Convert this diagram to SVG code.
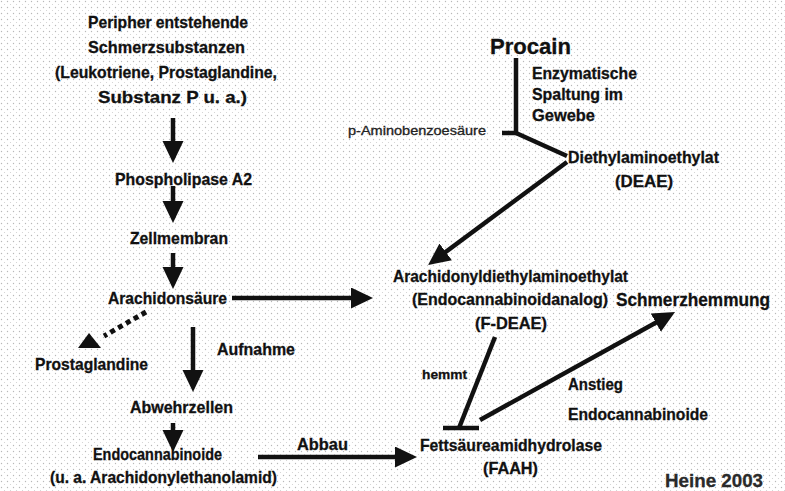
<svg xmlns="http://www.w3.org/2000/svg" width="785" height="491" viewBox="0 0 785 491">
  <defs>
    <pattern id="grain" width="6" height="6" patternUnits="userSpaceOnUse">
      <circle cx="1.5" cy="1.5" r="0.7" fill="#b8b8b8"/>
      <circle cx="4.5" cy="4.5" r="0.6" fill="#cfcfcf"/>
    </pattern>
    <marker id="head" markerUnits="userSpaceOnUse" markerWidth="24" markerHeight="24" refX="4" refY="10.5" orient="auto">
      <path d="M0,0 L22,10.5 L0,21 Z" fill="#111"/>
    </marker>
  </defs>
  <style>
    text { font-family: "Liberation Sans", Arial, sans-serif; font-weight: bold; fill: #111; stroke: #111; stroke-width: 0.3; font-size: 17px; }
    .small { font-size: 13px; }
    .thin { font-weight: normal; font-size: 12.5px; fill: #222; stroke: #222; }
    .big { font-size: 22px; }
    .mid { font-size: 19px; }
    .sig { font-size: 19px; fill: #2a2a2a; stroke: #2a2a2a; }
    .edge { stroke: #111; stroke-width: 4.5; fill: none; }
    .arrow { marker-end: url(#head); }
    .dots { stroke: #111; stroke-width: 5; stroke-dasharray: 5 4; fill: none; }
  </style>

  <rect width="785" height="491" fill="#ffffff"/>
  <rect width="785" height="491" fill="url(#grain)"/>

  <g id="connectors">
    <!-- left cascade -->
    <line class="edge arrow" x1="173" y1="118" x2="173" y2="145"/>
    <line class="edge arrow" x1="173" y1="186" x2="173" y2="205"/>
    <line class="edge arrow" x1="173" y1="253" x2="173" y2="271"/>
    <line class="edge arrow" x1="193" y1="327" x2="193" y2="374"/>
    <line class="edge arrow" x1="173" y1="423" x2="173" y2="434"/>
    <!-- to the analog and to FAAH -->
    <line class="edge arrow" x1="232" y1="298" x2="355" y2="298"/>
    <line class="edge arrow" x1="258" y1="457" x2="399" y2="457"/>
    <!-- dotted branch to prostaglandins -->
    <line class="dots" x1="146" y1="312" x2="104" y2="336"/>
    <polygon points="89,333 101,348 78,348" fill="#111"/>
    <!-- procaine split -->
    <line class="edge" x1="516" y1="58" x2="516" y2="134"/>
    <line class="edge" x1="502" y1="133" x2="518" y2="133" stroke-width="5"/>
    <line class="edge" x1="516" y1="133" x2="567" y2="156"/>
    <line class="edge arrow" x1="567" y1="162" x2="442.5" y2="254.3"/>
    <!-- inhibition of FAAH -->
    <line class="edge" x1="495" y1="337" x2="459" y2="428"/>
    <line class="edge" x1="443" y1="428" x2="479" y2="428"/>
    <!-- rise of endocannabinoids -->
    <line class="edge arrow" x1="480" y1="420" x2="659.3" y2="320.7"/>
  </g>

  <g id="schmerzsubstanzen">
    <text x="88" y="28" textLength="160" lengthAdjust="spacingAndGlyphs">Peripher entstehende</text>
    <text x="88" y="53" textLength="157" lengthAdjust="spacingAndGlyphs">Schmerzsubstanzen</text>
    <text x="55" y="78" textLength="222" lengthAdjust="spacingAndGlyphs">(Leukotriene, Prostaglandine,</text>
    <text x="98" y="103" textLength="149" lengthAdjust="spacingAndGlyphs">Substanz P u. a.)</text>
  </g>
  <g id="phospholipase">
    <text x="115" y="185" textLength="137" lengthAdjust="spacingAndGlyphs">Phospholipase A2</text>
  </g>
  <g id="zellmembran">
    <text x="130" y="244" textLength="98" lengthAdjust="spacingAndGlyphs">Zellmembran</text>
  </g>
  <g id="arachidonsaeure">
    <text x="108" y="304" textLength="119" lengthAdjust="spacingAndGlyphs">Arachidonsäure</text>
  </g>
  <g id="prostaglandine">
    <text x="35" y="370" textLength="113" lengthAdjust="spacingAndGlyphs">Prostaglandine</text>
  </g>
  <g id="aufnahme">
    <text x="217" y="355" textLength="78" lengthAdjust="spacingAndGlyphs">Aufnahme</text>
  </g>
  <g id="abwehrzellen">
    <text x="130" y="413" textLength="103" lengthAdjust="spacingAndGlyphs">Abwehrzellen</text>
  </g>
  <g id="endocannabinoide">
    <text x="93" y="460" textLength="129" lengthAdjust="spacingAndGlyphs">Endocannabinoide</text>
    <text x="50" y="483" textLength="227" lengthAdjust="spacingAndGlyphs">(u. a. Arachidonylethanolamid)</text>
  </g>
  <g id="abbau">
    <text x="297" y="450" textLength="51" lengthAdjust="spacingAndGlyphs">Abbau</text>
  </g>

  <g id="procain">
    <text class="big" x="490" y="54" textLength="81" lengthAdjust="spacingAndGlyphs">Procain</text>
  </g>
  <g id="spaltung">
    <text x="532" y="79" textLength="105" lengthAdjust="spacingAndGlyphs">Enzymatische</text>
    <text x="532" y="100" textLength="91" lengthAdjust="spacingAndGlyphs">Spaltung im</text>
    <text x="532" y="121" textLength="63" lengthAdjust="spacingAndGlyphs">Gewebe</text>
  </g>
  <g id="aminobenzoesaeure">
    <text class="thin" x="348" y="135" textLength="138" lengthAdjust="spacingAndGlyphs">p-Aminobenzoesäure</text>
  </g>
  <g id="deae">
    <text x="568" y="163" textLength="151" lengthAdjust="spacingAndGlyphs">Diethylaminoethylat</text>
    <text x="615" y="187" textLength="58" lengthAdjust="spacingAndGlyphs">(DEAE)</text>
  </g>
  <g id="f-deae">
    <text x="393" y="282" textLength="235" lengthAdjust="spacingAndGlyphs">Arachidonyldiethylaminoethylat</text>
    <text x="412" y="305" textLength="196" lengthAdjust="spacingAndGlyphs">(Endocannabinoidanalog)</text>
    <text x="475" y="329" textLength="72" lengthAdjust="spacingAndGlyphs">(F-DEAE)</text>
  </g>
  <g id="schmerzhemmung">
    <text class="mid" x="616" y="306" textLength="154" lengthAdjust="spacingAndGlyphs">Schmerzhemmung</text>
  </g>
  <g id="hemmt">
    <text class="small" x="422" y="379" textLength="45" lengthAdjust="spacingAndGlyphs">hemmt</text>
  </g>
  <g id="anstieg">
    <text x="568" y="390" textLength="55" lengthAdjust="spacingAndGlyphs">Anstieg</text>
    <text x="568" y="420" textLength="140" lengthAdjust="spacingAndGlyphs">Endocannabinoide</text>
  </g>
  <g id="faah">
    <text x="420" y="451" textLength="182" lengthAdjust="spacingAndGlyphs">Fettsäureamidhydrolase</text>
    <text x="483" y="474" textLength="55" lengthAdjust="spacingAndGlyphs">(FAAH)</text>
  </g>
  <g id="quelle">
    <text class="sig" x="665" y="487" textLength="98" lengthAdjust="spacingAndGlyphs">Heine 2003</text>
  </g>
</svg>
